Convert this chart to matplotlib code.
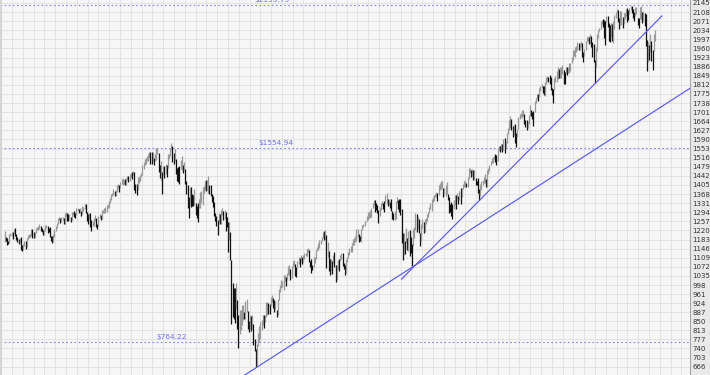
import matplotlib.pyplot as plt

# weekly S&P 500 highs / lows, one list per calendar year (first week: 3 Jan 2005)
hi_2005 = [1217, 1195, 1189, 1176, 1205, 1208, 1212, 1212, 1226, 1229, 1204, 1194, 1185, 1191, 1192, 1161, 1165, 1178, 1177, 1191, 1200, 1206, 1206, 1226, 1225, 1212, 1215, 1229, 1235, 1238, 1245, 1237, 1231, 1222, 1227, 1243, 1244, 1237, 1231, 1233, 1199, 1197, 1204, 1224, 1236, 1250, 1270, 1273, 1269, 1276, 1275, 1271]
lo_2005 = [1174, 1177, 1162, 1163, 1170, 1196, 1196, 1184, 1208, 1198, 1183, 1171, 1163, 1168, 1141, 1137, 1141, 1156, 1146, 1153, 1185, 1191, 1193, 1198, 1190, 1189, 1195, 1211, 1220, 1222, 1224, 1219, 1214, 1201, 1201, 1218, 1228, 1211, 1213, 1192, 1176, 1169, 1174, 1192, 1217, 1230, 1245, 1262, 1252, 1255, 1262, 1248]
hi_2006 = [1291, 1295, 1290, 1287, 1287, 1275, 1294, 1294, 1297, 1290, 1310, 1310, 1306, 1310, 1300, 1318, 1317, 1326, 1326, 1294, 1285, 1290, 1289, 1262, 1258, 1271, 1281, 1272, 1245, 1280, 1287, 1283, 1302, 1304, 1312, 1314, 1322, 1329, 1339, 1353, 1367, 1372, 1389, 1381, 1384, 1404, 1407, 1403, 1415, 1428, 1432, 1427]
lo_2006 = [1248, 1280, 1260, 1259, 1262, 1253, 1264, 1281, 1276, 1272, 1281, 1297, 1291, 1290, 1280, 1285, 1299, 1307, 1291, 1259, 1245, 1262, 1235, 1219, 1237, 1238, 1260, 1234, 1224, 1238, 1270, 1261, 1265, 1290, 1292, 1291, 1295, 1311, 1313, 1330, 1343, 1359, 1364, 1360, 1361, 1378, 1394, 1378, 1394, 1407, 1405, 1410]
hi_2007 = [1429, 1432, 1441, 1440, 1450, 1453, 1457, 1461, 1456, 1407, 1410, 1439, 1438, 1445, 1454, 1485, 1498, 1510, 1513, 1523, 1530, 1540, 1540, 1538, 1540, 1514, 1532, 1556, 1556, 1535, 1488, 1504, 1456, 1481, 1482, 1490, 1485, 1529, 1532, 1557, 1576, 1563, 1536, 1552, 1512, 1475, 1478, 1482, 1507, 1523, 1485, 1498]
lo_2007 = [1403, 1405, 1424, 1416, 1420, 1437, 1431, 1446, 1384, 1374, 1364, 1383, 1411, 1420, 1437, 1447, 1471, 1488, 1491, 1502, 1503, 1513, 1492, 1490, 1501, 1485, 1502, 1507, 1529, 1458, 1432, 1427, 1370, 1445, 1432, 1450, 1439, 1475, 1512, 1521, 1546, 1500, 1489, 1501, 1448, 1420, 1415, 1407, 1469, 1467, 1453, 1467]
hi_2008 = [1471, 1421, 1405, 1355, 1396, 1396, 1367, 1364, 1388, 1332, 1321, 1332, 1349, 1375, 1379, 1395, 1400, 1422, 1423, 1426, 1440, 1406, 1405, 1370, 1361, 1335, 1290, 1278, 1262, 1290, 1285, 1305, 1313, 1300, 1304, 1294, 1274, 1255, 1255, 1213, 1099, 1006, 985, 984, 1007, 938, 874, 896, 896, 918, 918, 890]
lo_2008 = [1410, 1370, 1313, 1270, 1322, 1316, 1320, 1321, 1325, 1283, 1272, 1256, 1312, 1312, 1331, 1323, 1371, 1384, 1381, 1384, 1373, 1370, 1358, 1335, 1317, 1278, 1260, 1238, 1200, 1251, 1248, 1247, 1282, 1261, 1266, 1217, 1233, 1133, 1180, 1098, 839, 866, 859, 845, 899, 818, 741, 800, 815, 837, 857, 858]
hi_2009 = [932, 943, 891, 851, 877, 870, 876, 839, 780, 736, 759, 803, 832, 846, 857, 876, 875, 878, 930, 929, 924, 920, 948, 956, 945, 935, 931, 898, 943, 980, 996, 1018, 1013, 1037, 1040, 1030, 1048, 1074, 1080, 1063, 1076, 1097, 1101, 1085, 1072, 1097, 1113, 1107, 1120, 1110, 1118, 1127, 1130]
lo_2009 = [858, 888, 818, 805, 821, 812, 818, 754, 731, 666, 672, 748, 768, 779, 814, 835, 825, 847, 868, 878, 879, 880, 918, 927, 903, 888, 896, 869, 875, 935, 968, 985, 990, 978, 1016, 992, 1017, 1040, 1040, 1019, 1025, 1067, 1074, 1033, 1029, 1069, 1085, 1073, 1094, 1085, 1093, 1103, 1115]
hi_2010 = [1145, 1150, 1140, 1097, 1104, 1080, 1110, 1113, 1139, 1151, 1169, 1181, 1181, 1195, 1214, 1218, 1220, 1200, 1174, 1137, 1103, 1105, 1094, 1121, 1131, 1079, 1079, 1100, 1104, 1120, 1128, 1129, 1086, 1081, 1105, 1112, 1131, 1149, 1158, 1167, 1184, 1189, 1196, 1227, 1226, 1207, 1199, 1226, 1241, 1247, 1260, 1260]
lo_2010 = [1115, 1131, 1090, 1071, 1045, 1057, 1071, 1086, 1104, 1137, 1142, 1150, 1165, 1175, 1188, 1181, 1181, 1066, 1110, 1056, 1040, 1060, 1042, 1088, 1071, 1011, 1019, 1063, 1056, 1097, 1105, 1076, 1063, 1040, 1047, 1091, 1106, 1122, 1131, 1131, 1159, 1159, 1171, 1177, 1194, 1173, 1176, 1174, 1221, 1232, 1238, 1254]
hi_2011 = [1277, 1294, 1296, 1302, 1312, 1330, 1344, 1343, 1333, 1325, 1302, 1315, 1333, 1339, 1331, 1338, 1364, 1371, 1346, 1346, 1334, 1346, 1299, 1292, 1298, 1341, 1356, 1343, 1347, 1346, 1307, 1208, 1208, 1178, 1230, 1190, 1216, 1220, 1195, 1164, 1225, 1233, 1292, 1285, 1277, 1265, 1208, 1248, 1267, 1255, 1265, 1269]
lo_2011 = [1257, 1262, 1271, 1270, 1276, 1311, 1324, 1294, 1302, 1291, 1249, 1280, 1305, 1324, 1309, 1294, 1332, 1329, 1318, 1323, 1311, 1297, 1268, 1262, 1262, 1268, 1333, 1309, 1295, 1282, 1168, 1101, 1121, 1124, 1170, 1140, 1136, 1114, 1127, 1074, 1155, 1191, 1221, 1215, 1226, 1209, 1158, 1178, 1231, 1209, 1212, 1248]
hi_2012 = [1285, 1296, 1316, 1333, 1346, 1354, 1364, 1368, 1378, 1374, 1405, 1414, 1419, 1422, 1391, 1392, 1406, 1416, 1370, 1354, 1329, 1334, 1326, 1344, 1364, 1362, 1374, 1359, 1380, 1392, 1394, 1407, 1420, 1426, 1414, 1438, 1475, 1474, 1467, 1471, 1464, 1464, 1434, 1421, 1434, 1389, 1409, 1420, 1424, 1438, 1448, 1430]
lo_2012 = [1258, 1275, 1290, 1306, 1300, 1337, 1340, 1357, 1354, 1341, 1366, 1386, 1390, 1391, 1357, 1365, 1358, 1367, 1343, 1292, 1296, 1277, 1267, 1308, 1324, 1309, 1348, 1326, 1345, 1329, 1354, 1389, 1397, 1398, 1398, 1396, 1428, 1455, 1436, 1440, 1425, 1427, 1403, 1403, 1373, 1343, 1360, 1386, 1403, 1411, 1413, 1398]
hi_2013 = [1467, 1472, 1486, 1503, 1514, 1519, 1524, 1531, 1526, 1552, 1563, 1563, 1570, 1573, 1593, 1597, 1585, 1618, 1636, 1667, 1687, 1674, 1646, 1648, 1654, 1615, 1632, 1680, 1693, 1698, 1709, 1709, 1695, 1669, 1670, 1663, 1689, 1730, 1711, 1702, 1704, 1745, 1759, 1775, 1775, 1799, 1809, 1814, 1808, 1809, 1823, 1844]
lo_2013 = [1398, 1451, 1461, 1485, 1495, 1495, 1510, 1498, 1485, 1501, 1547, 1538, 1546, 1539, 1548, 1536, 1554, 1577, 1613, 1627, 1635, 1630, 1598, 1608, 1577, 1560, 1601, 1632, 1672, 1680, 1676, 1684, 1654, 1640, 1627, 1636, 1654, 1686, 1687, 1674, 1646, 1700, 1738, 1753, 1746, 1761, 1787, 1799, 1779, 1772, 1767, 1815]
hi_2014 = [1849, 1843, 1850, 1844, 1800, 1794, 1841, 1847, 1867, 1883, 1877, 1883, 1884, 1893, 1873, 1865, 1884, 1885, 1885, 1902, 1902, 1924, 1955, 1955, 1964, 1968, 1986, 1982, 1983, 1991, 1984, 1946, 1958, 1992, 2006, 2012, 2008, 2019, 2011, 1985, 1977, 1912, 1966, 2018, 2034, 2042, 2072, 2075, 2079, 2075, 2071, 2093]
lo_2014 = [1827, 1823, 1815, 1790, 1770, 1738, 1791, 1825, 1824, 1834, 1839, 1840, 1839, 1857, 1814, 1815, 1859, 1851, 1859, 1862, 1868, 1901, 1915, 1928, 1926, 1944, 1952, 1953, 1955, 1965, 1925, 1904, 1928, 1955, 1987, 1991, 1978, 1982, 1965, 1926, 1906, 1820, 1886, 1951, 2002, 2030, 2040, 2058, 2049, 2003, 1972, 2069]
hi_2015 = [2093, 2064, 2056, 2064, 2058, 2072, 2097, 2110, 2119, 2117, 2083, 2114, 2114, 2089, 2105, 2107, 2120, 2126, 2117, 2123, 2134, 2132, 2121, 2109, 2127, 2129, 2085, 2083, 2127, 2132, 2109, 2113, 2105, 2102, 1993, 1987, 1975, 2020, 1989, 1952, 2020, 2034]
lo_2015 = [2046, 1992, 1988, 2005, 1990, 1981, 2041, 2085, 2103, 2067, 2040, 2054, 2055, 2045, 2059, 2079, 2092, 2067, 2074, 2099, 2117, 2103, 2085, 2072, 2092, 2100, 2056, 2044, 2080, 2078, 2063, 2073, 2052, 1971, 1867, 1903, 1911, 1944, 1908, 1872, 1950, 1990]

# price levels marked with dotted lines
levels = [2135.79, 1554.94, 764.22]
level_labels = ["$2135.79", "$1554.94", "$764.22"]

# trend lines: (week index, price) at both ends
trend_a = [(190, 579), (592, 1797)]
trend_b = [(343, 1022), (568, 2092)]

# right axis labels as printed
tick_labels = ["666", "703", "740", "777", "813", "850", "887", "924", "961", "998",
               "1035", "1072", "1109", "1146", "1183", "1220", "1257", "1294", "1331", "1368",
               "1405", "1442", "1479", "1516", "1553", "1590", "1627", "1664", "1701", "1738",
               "1775", "1812", "1849", "1886", "1923", "1960", "1997", "2034", "2071", "2108",
               "2145"]

highs = (hi_2005 + hi_2006 + hi_2007 + hi_2008 + hi_2009 + hi_2010
         + hi_2011 + hi_2012 + hi_2013 + hi_2014 + hi_2015)
lows = (lo_2005 + lo_2006 + lo_2007 + lo_2008 + lo_2009 + lo_2010
        + lo_2011 + lo_2012 + lo_2013 + lo_2014 + lo_2015)

plt.rcParams["font.family"] = ["Liberation Sans Narrow", "DejaVu Sans"]

fig = plt.figure(figsize=(7.1, 3.75), dpi=100)
fig.patch.set_facecolor("#e9e9e9")
ax = fig.add_axes((0, 0, 690 / 710, 1))
ax.set_facecolor("#f6f6f6")

# grid
tick_values = [float(t) for t in tick_labels]
for v in tick_values:
    ax.axhline(v, color="#e3e3e3", linewidth=0.7, zorder=0)
gx = -3.0
while gx < 600:
    ax.axvline(gx, color="#e3e3e3", linewidth=0.7, zorder=0)
    gx += 9.33

# weekly bars: black when the week moved down, grey otherwise
weeks = list(range(len(highs)))
colors = []
prev_mid = None
for h, l in zip(highs, lows):
    mid = (h + l) / 2
    colors.append("#111111" if prev_mid is not None and mid < prev_mid else "#9a9a9a")
    prev_mid = mid
ax.vlines(weeks, lows, highs, colors=colors, linewidth=0.9, zorder=2)

# dotted levels and their labels
label_x = [216, 219, 131]
for level, text, lx in zip(levels, level_labels, label_x):
    ax.axhline(level, color="#8484f4", linewidth=0.8, linestyle=(0, (1.5, 2.2)), zorder=1)
    ax.annotate(text, xy=(lx, level), xytext=(0, 1.5), textcoords="offset points",
                ha="left", va="bottom", fontsize=5.3, color="#7272e6")

# trend lines
for line in (trend_a, trend_b):
    xs, ys = zip(*line)
    ax.plot(xs, ys, color="#5a5af0", linewidth=0.85, zorder=3)

ax.set_xlim(-4.06, 592.3)
ax.set_ylim(632, 2157)
ax.set_xticks([])
ax.yaxis.tick_right()
ax.set_yticks(tick_values)
ax.set_yticklabels(tick_labels)
ax.tick_params(axis="y", length=0, pad=1.5, labelsize=5.0, labelcolor="#333333")
for s in ("top", "bottom"):
    ax.spines[s].set_visible(False)
ax.spines["right"].set_color("#a8a8a8")
ax.spines["right"].set_linewidth(0.8)
ax.spines["left"].set_color("#d4d4d4")
ax.spines["left"].set_linewidth(2)

fig.savefig("out.png", dpi=100)
